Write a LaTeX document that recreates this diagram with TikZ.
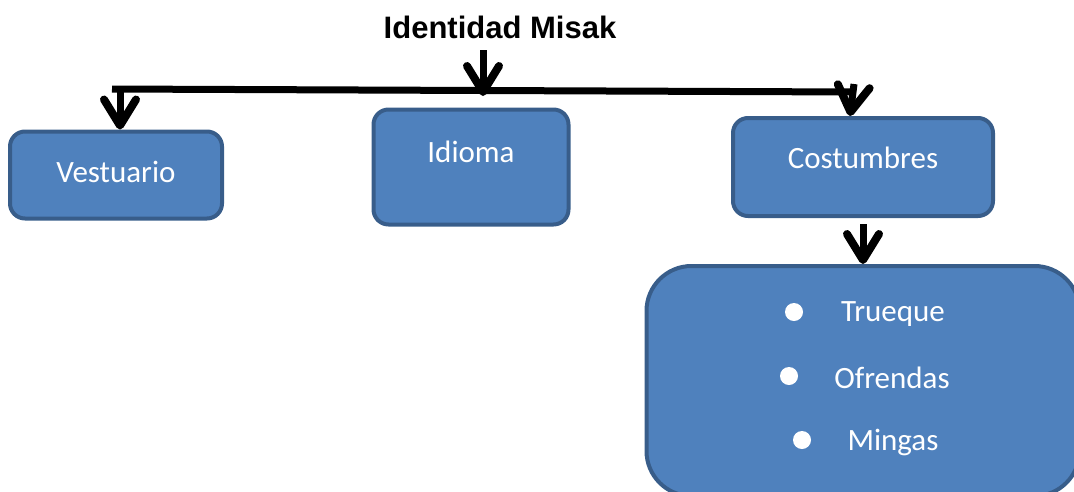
\documentclass[tikz,border=0pt]{standalone}
\usepackage{fontspec}
\setmainfont{Carlito}
\newfontfamily\titlefont{Liberation Sans}
\usetikzlibrary{positioning, arrows.meta}

\definecolor{boxfill}{HTML}{4F81BD}
\definecolor{boxline}{HTML}{385D8A}

\tikzset{
 box/.style={draw=boxline, fill=boxfill, line width=4pt, rounded corners=15pt, text=white, font=\fontsize{31}{37}\selectfont},
 boxtext/.style={text=white, font=\fontsize{31}{37}\selectfont},
 bigarrow/.style={line width=7pt, -{Straight Barb[length=26pt, width=32pt, line width=8pt, round]}}
}

\begin{document}
\begin{tikzpicture}[x=1pt, y=-1pt]
 \useasboundingbox (0,0) rectangle (1074,491);
 \clip (0,0) rectangle (1074,491);

 \node[font=\titlefont\bfseries\fontsize{31}{37}\selectfont] (title) at (500,27) {Identidad Misak};

 % the three boxes
 \node[box, minimum width=212, minimum height=87, label={[boxtext, yshift=3pt]center:Vestuario}] (vestuario) at (116,175) {};
 \node[box, minimum width=195, minimum height=115, label={[boxtext, yshift=15pt]center:Idioma}] (idioma) at (471,167) {};
 \node[box, minimum width=260, minimum height=98, label={[boxtext, yshift=9pt]center:Costumbres}] (costumbres) at (863,167) {};
 \node[box, rounded corners=45pt, minimum width=433, minimum height=230] (lista) at (863,381) {};
 \foreach \y/\bx/\tx/\item in {312/794/893/Trueque, 376/789/892/Ofrendas, 440/802/893/Mingas} {
  \fill[white] (\bx,\y) circle (9pt);
  \node[boxtext] (\item) at (\tx,\y+2) {\item};
 }

 % connectors
 \coordinate (left) at (112,89);
 \coordinate (right) at (855,92);
 \draw[line width=7pt] (left) -- (right);
 \draw[bigarrow] (120,89) -- (vestuario.north -| 120,0);
 \draw[bigarrow] (483,50) -- (483,96);
 \draw[bigarrow] (854,84) -- (costumbres.north -| 850,0);
 \draw[bigarrow] (costumbres.south -| 863,0) ++(0,6) -- (lista.north -| 863,0);
\end{tikzpicture}
\end{document}
